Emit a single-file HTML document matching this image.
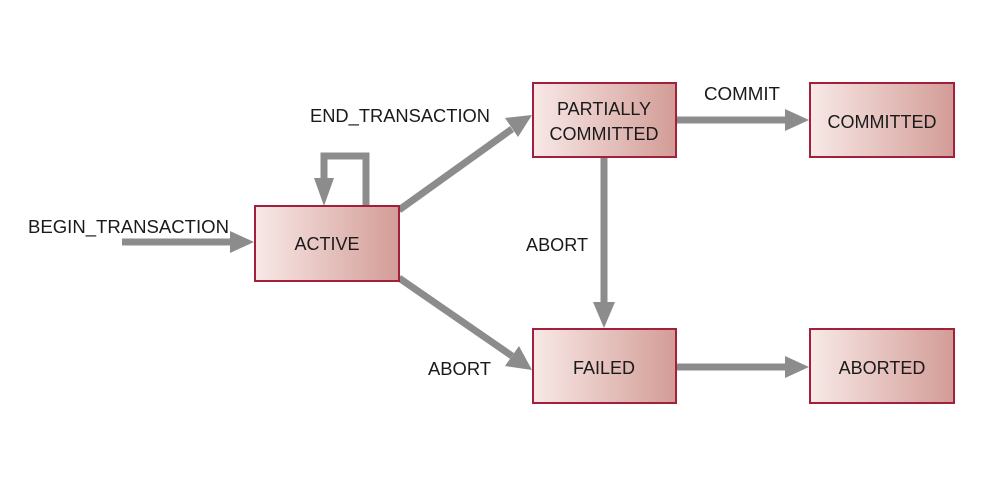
<!DOCTYPE html>
<html><head><meta charset="utf-8"><style>
html,body{margin:0;padding:0;background:#fff;}
svg{display:block;}
text{font-family:"Liberation Sans",sans-serif;font-size:18px;fill:#1a1a1a;}
</style></head><body>
<svg width="988" height="478" viewBox="0 0 988 478" xmlns="http://www.w3.org/2000/svg">
<defs>
<linearGradient id="g" x1="0" x2="1" y1="0" y2="0">
<stop offset="0" stop-color="#f8e9e7"/>
<stop offset="1" stop-color="#d39c96"/>
</linearGradient>
</defs>
<rect width="988" height="478" fill="#fff"/>
<g stroke="#8c8c8c" stroke-width="7" fill="none">
<line x1="122" y1="242" x2="232" y2="242"/>
<polyline points="366,206 366,156 324,156 324,182"/>
<line x1="399" y1="210" x2="512" y2="129"/>
<line x1="399" y1="278" x2="512" y2="356"/>
<line x1="677" y1="120" x2="787" y2="120"/>
<line x1="604" y1="157" x2="604" y2="304"/>
<line x1="677" y1="367" x2="787" y2="367"/>
</g>
<g fill="#8c8c8c">
<polygon points="230,231 254,242 230,253"/>
<polygon points="314,178 334,178 324,206"/>
<polygon points="505,118 532,115 518,137"/>
<polygon points="519,346 532,370 505,366"/>
<polygon points="785,109 809,120 785,131"/>
<polygon points="593,302 615,302 604,328"/>
<polygon points="785,356 809,367 785,378"/>
</g>
<g fill="url(#g)" stroke="#a3203c" stroke-width="2">
<rect x="255" y="206" width="144" height="75"/>
<rect x="533" y="83" width="143" height="74"/>
<rect x="810" y="83" width="144" height="74"/>
<rect x="533" y="329" width="143" height="74"/>
<rect x="810" y="329" width="144" height="74"/>
</g>
<text x="327" y="250" text-anchor="middle">ACTIVE</text>
<text x="604" y="115" text-anchor="middle">PARTIALLY</text>
<text x="604" y="140" text-anchor="middle">COMMITTED</text>
<text x="882" y="128" text-anchor="middle">COMMITTED</text>
<text x="604" y="374" text-anchor="middle">FAILED</text>
<text x="882" y="374" text-anchor="middle">ABORTED</text>
<text x="28" y="233" textLength="201" lengthAdjust="spacingAndGlyphs">BEGIN_TRANSACTION</text>
<text x="310" y="122" textLength="180" lengthAdjust="spacingAndGlyphs">END_TRANSACTION</text>
<text x="704" y="100" textLength="76" lengthAdjust="spacingAndGlyphs">COMMIT</text>
<text x="526" y="251" textLength="62" lengthAdjust="spacingAndGlyphs">ABORT</text>
<text x="428" y="375" textLength="63" lengthAdjust="spacingAndGlyphs">ABORT</text>
</svg>
</body></html>
